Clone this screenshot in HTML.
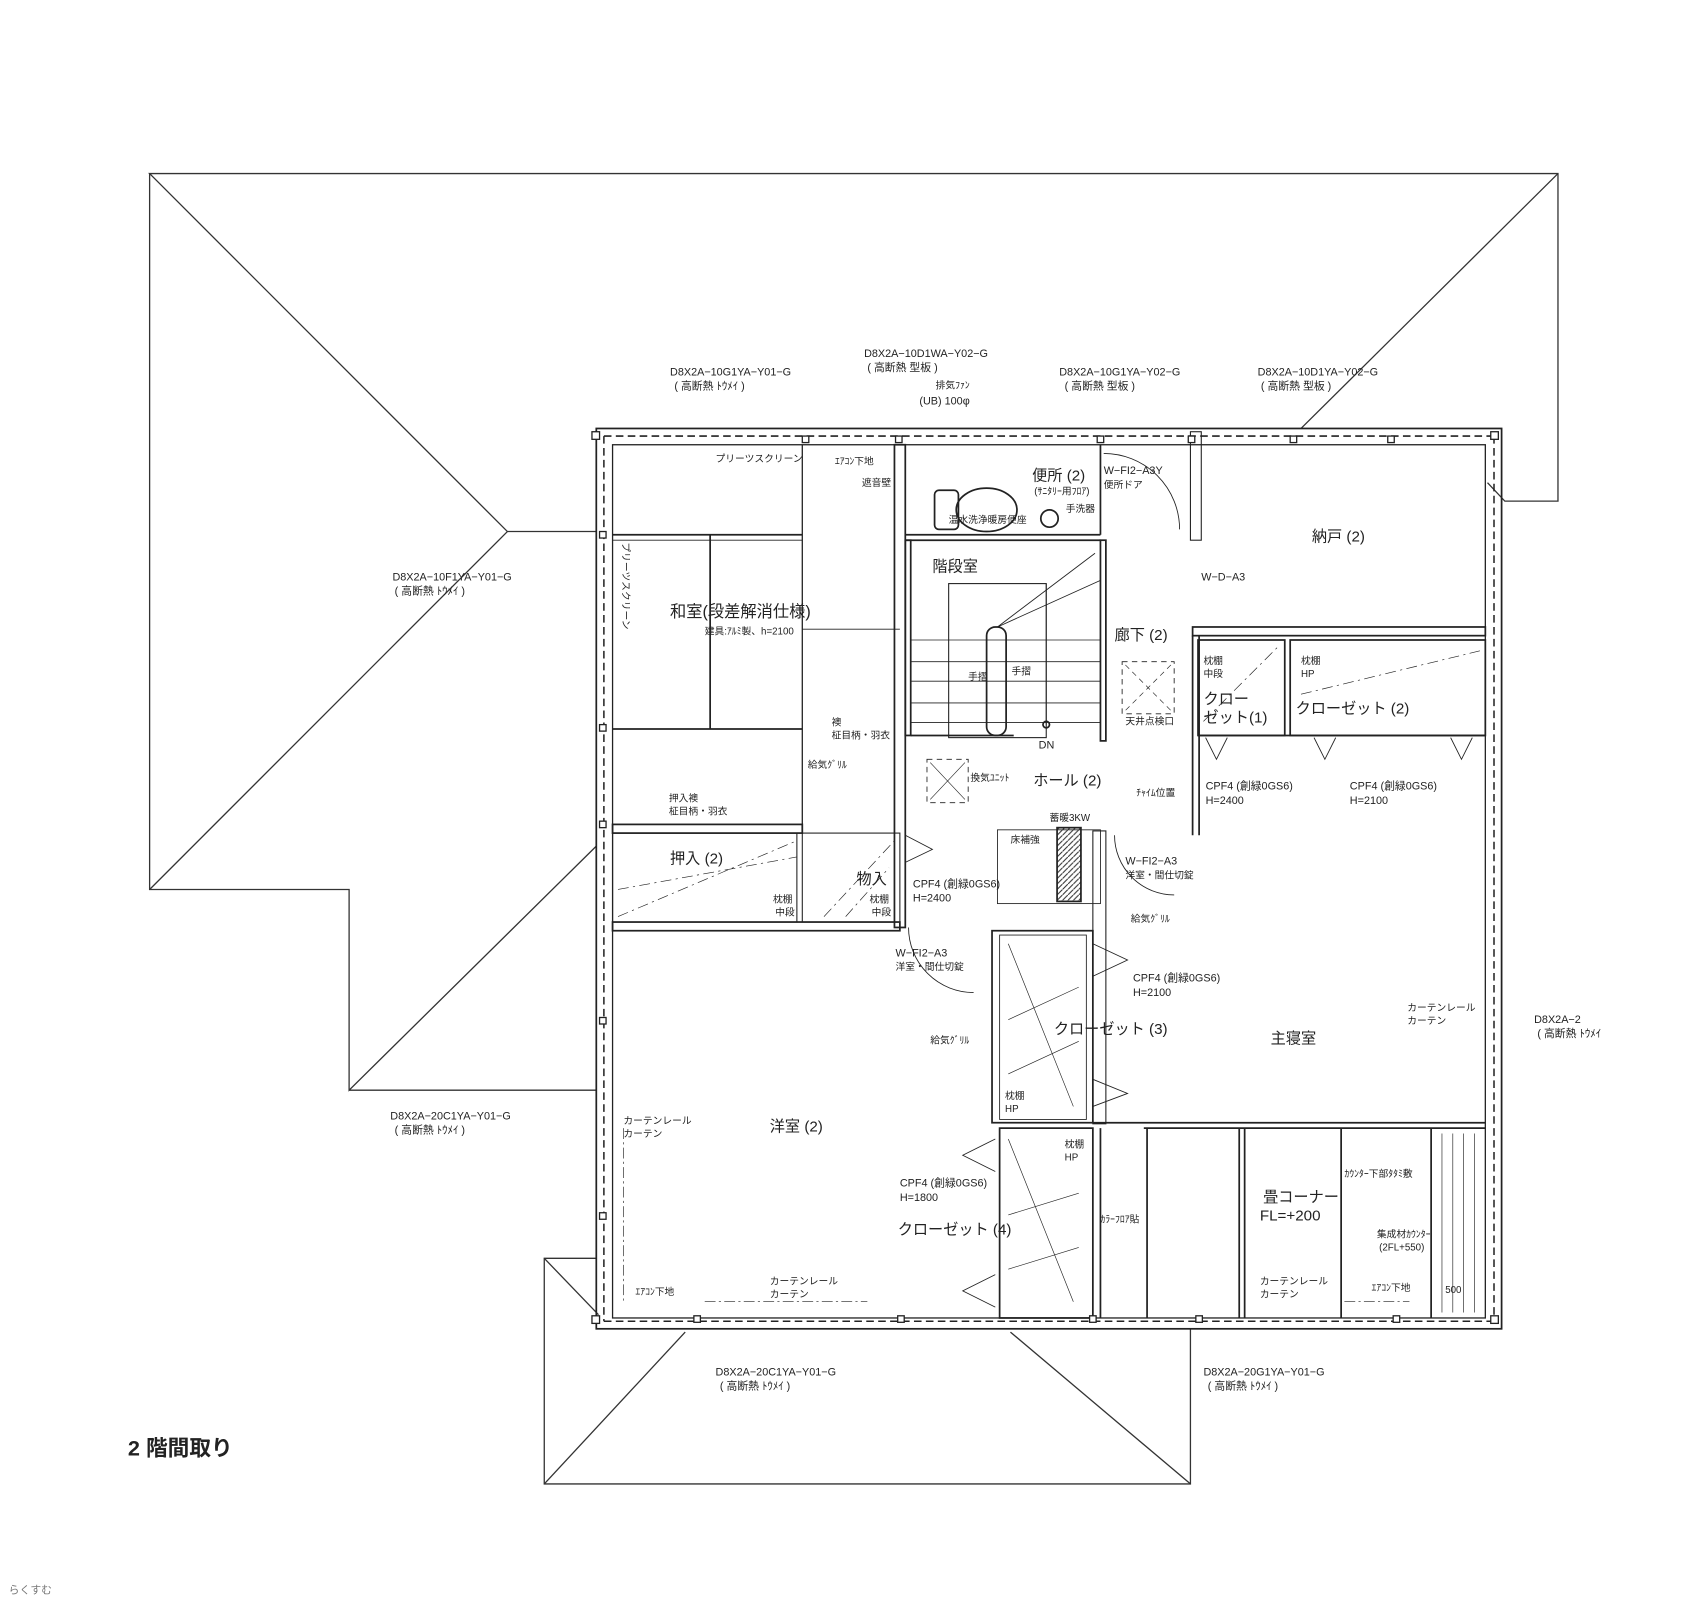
<!DOCTYPE html>
<html><head><meta charset="utf-8">
<style>
html,body{margin:0;padding:0;background:#fff;}
svg{display:block;}
text{font-family:"Liberation Sans","Noto Sans CJK JP",sans-serif;fill:#222;}
.s{font-size:10px}
.m{font-size:14px}
.l{font-size:15px}
.t{font-size:9px}
</style></head><body>
<svg width="1700" height="1600" viewBox="0 0 1568 1475" preserveAspectRatio="none" xmlns="http://www.w3.org/2000/svg">
<rect x="0" y="0" width="1568" height="1475" fill="#fff"/>
<g fill="none" stroke="#333" stroke-width="1.2">
<polyline points="550,490 468,490 138,160 1437,160 1437,462 1388,462 1372,445"/>
<line x1="1437" y1="160" x2="1200" y2="395"/>
<polyline points="550,780 322,1005 322,820 138,820 138,160"/>
<line x1="138" y1="820" x2="468" y2="490"/>
<polyline points="322,1005 550,1005"/>
<polyline points="550,1160 502,1160 502,1368 1098,1368 1098,1225"/>
<line x1="502" y1="1160" x2="552" y2="1212"/>
<line x1="502" y1="1368" x2="632" y2="1228"/>
<line x1="1098" y1="1368" x2="932" y2="1228"/>
</g>
<g fill="none" stroke="#222" stroke-width="1.6">
<rect x="550" y="395" width="835" height="830"/>
<rect x="565" y="410" width="805" height="805" stroke-width="1.2"/>
<line x1="740" y1="410" x2="740" y2="760" stroke-width="1.2"/>
<line x1="565" y1="493" x2="740" y2="493"/>
<line x1="565" y1="672" x2="740" y2="672"/>
<line x1="655" y1="493" x2="655" y2="672"/>
<line x1="565" y1="498" x2="740" y2="498" stroke-width="0.8"/>
<line x1="740" y1="580" x2="830" y2="580" stroke-width="0.8"/>
<rect x="825" y="410" width="10" height="445"/>
<rect x="565" y="760" width="175" height="8"/>
<rect x="565" y="850" width="265" height="8"/>
<rect x="740" y="768" width="90" height="82" stroke-width="1"/>
<rect x="565" y="768" width="170" height="82" stroke-width="1"/>
<line x1="835" y1="493" x2="1015" y2="493"/>
<line x1="835" y1="498" x2="1015" y2="498"/>
<line x1="1015" y1="410" x2="1015" y2="493"/>
<rect x="1015" y="498" width="5" height="185"/>
<rect x="835" y="498" width="5" height="180"/>
<rect x="875" y="538" width="90" height="142" stroke-width="1"/>
<line x1="840" y1="590" x2="1015" y2="590" stroke-width="0.8"/>
<line x1="840" y1="610" x2="1015" y2="610" stroke-width="0.8"/>
<line x1="840" y1="628" x2="1015" y2="628" stroke-width="0.8"/>
<line x1="840" y1="648" x2="1015" y2="648" stroke-width="0.8"/>
<line x1="840" y1="666" x2="1015" y2="666" stroke-width="0.8"/>
<line x1="840" y1="678" x2="935" y2="678"/>
<rect x="910" y="578" width="18" height="100" rx="8"/>
<line x1="920" y1="578" x2="1010" y2="510" stroke-width="0.8"/>
<line x1="920" y1="578" x2="1015" y2="535" stroke-width="0.8"/>
<line x1="965" y1="538" x2="965" y2="668" stroke-width="0.8"/>
<circle cx="965" cy="668" r="3"/>
<rect x="1098" y="398" width="10" height="100" stroke-width="1"/>
<rect x="1100" y="578" width="270" height="8"/>
<line x1="1100" y1="586" x2="1100" y2="770"/>
<line x1="1106" y1="586" x2="1106" y2="770"/>
<rect x="1105" y="590" width="80" height="88"/>
<rect x="1190" y="590" width="180" height="88"/>
<line x1="1105" y1="678" x2="1370" y2="678"/>
<rect x="915" y="858" width="93" height="177"/>
<rect x="922" y="862" width="80" height="170" stroke-width="0.8"/>
<rect x="1008" y="766" width="12" height="270" stroke-width="1"/>
<rect x="922" y="1040" width="86" height="175"/>
<line x1="1015" y1="1040" x2="1015" y2="1215"/>
<line x1="1008" y1="1035" x2="1370" y2="1035"/>
<line x1="1055" y1="1040" x2="1370" y2="1040"/>
<line x1="1058" y1="1040" x2="1058" y2="1215"/>
<line x1="1143" y1="1040" x2="1143" y2="1215"/>
<line x1="1148" y1="1040" x2="1148" y2="1215"/>
<line x1="1237" y1="1040" x2="1237" y2="1215"/>
<line x1="1320" y1="1040" x2="1320" y2="1215"/>
<line x1="1330" y1="1045" x2="1330" y2="1210" stroke-width="0.6"/>
<line x1="1340" y1="1045" x2="1340" y2="1210" stroke-width="0.6"/>
<line x1="1350" y1="1045" x2="1350" y2="1210" stroke-width="0.6"/>
<line x1="1360" y1="1045" x2="1360" y2="1210" stroke-width="0.6"/>
<rect x="975" y="763" width="22" height="68" fill="url(#h)"/>
<rect x="920" y="765" width="95" height="68" stroke-width="0.8"/>
<rect x="855" y="700" width="38" height="40" stroke-dasharray="5,4" stroke-width="0.8"/>
<line x1="858" y1="703" x2="890" y2="737" stroke-width="0.6"/>
<line x1="890" y1="703" x2="858" y2="737" stroke-width="0.6"/>
<rect x="1035" y="610" width="48" height="48" stroke-dasharray="5,4" stroke-width="0.8"/>
<line x1="1038" y1="613" x2="1080" y2="655" stroke-width="0.6" stroke-dasharray="5,4"/>
<line x1="1080" y1="613" x2="1038" y2="655" stroke-width="0.6" stroke-dasharray="5,4"/>
<path d="M1018 418 A70 70 0 0 1 1088 488" stroke-width="0.8"/>
<path d="M1028 770 A55 55 0 0 0 1083 825" stroke-width="0.8"/>
<path d="M838 855 A60 60 0 0 0 898 915" stroke-width="0.8"/>
<ellipse cx="910" cy="470" rx="28" ry="20"/>
<rect x="862" y="452" width="22" height="36" rx="4"/>
<circle cx="968" cy="478" r="8"/>
<path d="M570 845 L735 775 M570 820 L735 790" stroke-width="0.6" stroke-dasharray="10,4,2,4"/>
<path d="M760 845 L825 775 M780 845 L820 800" stroke-width="0.6" stroke-dasharray="10,4,2,4"/>
<path d="M1110 665 L1180 595 M1200 640 L1365 600" stroke-width="0.6" stroke-dasharray="10,4,2,4"/>
<path d="M930 870 L990 1020 M930 940 L995 910 M930 990 L995 960 M930 1050 L990 1200 M930 1120 L995 1100 M930 1170 L995 1150" stroke-width="0.6"/>
<path d="M650 1200 L800 1200 M1240 1200 L1300 1200 M575 1040 L575 1200" stroke-width="0.6" stroke-dasharray="10,3,2,3"/>
<path d="M1112 680 L1122 700 L1132 680 M1212 680 L1222 700 L1232 680 M1338 680 L1348 700 L1358 680" stroke-width="0.8"/>
<path d="M1008 870 L1040 885 L1008 900 M1008 995 L1040 1008 L1008 1020" stroke-width="0.8"/>
<path d="M918 1050 L888 1065 L918 1080 M918 1175 L888 1190 L918 1205" stroke-width="0.8"/>
<path d="M835 770 L860 783 L835 795" stroke-width="0.8"/>
</g>
<defs><pattern id="h" width="5" height="5" patternUnits="userSpaceOnUse"><path d="M0 5 L5 0" stroke="#333" stroke-width="1"/></pattern></defs>
<g fill="none" stroke="#222" stroke-width="1.4" stroke-dasharray="7,4">
<line x1="557" y1="402" x2="1378" y2="402"/>
<line x1="557" y1="1218" x2="1378" y2="1218"/>
<line x1="557" y1="402" x2="557" y2="1218"/>
<line x1="1378" y1="402" x2="1378" y2="1218"/>
</g>
<g fill="#fff" stroke="#222" stroke-width="1.2">
<rect x="546" y="398" width="7" height="7"/><rect x="1375" y="398" width="7" height="7"/>
<rect x="546" y="1213" width="7" height="7"/><rect x="1375" y="1213" width="7" height="7"/>
<rect x="740" y="402" width="6" height="6"/><rect x="826" y="402" width="6" height="6"/>
<rect x="1012" y="402" width="6" height="6"/><rect x="1096" y="402" width="6" height="6"/>
<rect x="1190" y="402" width="6" height="6"/><rect x="1280" y="402" width="6" height="6"/>
<rect x="553" y="490" width="6" height="6"/><rect x="553" y="668" width="6" height="6"/>
<rect x="553" y="757" width="6" height="6"/><rect x="553" y="938" width="6" height="6"/>
<rect x="553" y="1118" width="6" height="6"/><rect x="828" y="1213" width="6" height="6"/>
<rect x="1005" y="1213" width="6" height="6"/><rect x="1103" y="1213" width="6" height="6"/>
<rect x="1285" y="1213" width="6" height="6"/><rect x="640" y="1213" width="6" height="6"/>
</g>
<g>
<text x="618" y="346" class="s">D8X2A−10G1YA−Y01−G</text>
<text x="622" y="359" class="s">( 高断熱 ﾄｳﾒｲ )</text>
<text x="797" y="329" class="s">D8X2A−10D1WA−Y02−G</text>
<text x="800" y="342" class="s">( 高断熱 型板 )</text>
<text x="977" y="346" class="s">D8X2A−10G1YA−Y02−G</text>
<text x="982" y="359" class="s">( 高断熱 型板 )</text>
<text x="1160" y="346" class="s">D8X2A−10D1YA−Y02−G</text>
<text x="1163" y="359" class="s">( 高断熱 型板 )</text>
<text x="362" y="535" class="s">D8X2A−10F1YA−Y01−G</text>
<text x="364" y="548" class="s">( 高断熱 ﾄｳﾒｲ )</text>
<text x="360" y="1032" class="s">D8X2A−20C1YA−Y01−G</text>
<text x="364" y="1045" class="s">( 高断熱 ﾄｳﾒｲ )</text>
<text x="1415" y="943" class="s">D8X2A−2</text>
<text x="1418" y="956" class="s">( 高断熱 ﾄｳﾒｲ</text>
<text x="660" y="1268" class="s">D8X2A−20C1YA−Y01−G</text>
<text x="664" y="1281" class="s">( 高断熱 ﾄｳﾒｲ )</text>
<text x="1110" y="1268" class="s">D8X2A−20G1YA−Y01−G</text>
<text x="1114" y="1281" class="s">( 高断熱 ﾄｳﾒｲ )</text>
<text x="118" y="1342" style="font-size:20px;font-weight:bold">2 階間取り</text>
<text x="863" y="358" class="t">排気ﾌｧﾝ</text>
<text x="848" y="373" class="s">(UB) 100φ</text>
<text x="660" y="426" class="t">プリーツスクリーン</text>
<text x="770" y="428" class="t">ｴｱｺﾝ下地</text>
<text x="795" y="448" class="t">遮音壁</text>
<text x="952" y="443" class="m">便所 (2)</text>
<text x="954" y="456" class="t">(ｻﾆﾀﾘｰ用ﾌﾛｱ)</text>
<text x="875" y="482" class="t">温水洗浄暖房便座</text>
<text x="983" y="472" class="t">手洗器</text>
<text x="1018" y="437" class="s">W−FI2−A3Y</text>
<text x="1018" y="450" class="t">便所ドア</text>
<text x="1210" y="499" class="m">納戸 (2)</text>
<text x="1108" y="535" class="s">W−D−A3</text>
<text x="860" y="527" class="m">階段室</text>
<text x="618" y="569" class="l">和室(段差解消仕様)</text>
<text x="650" y="585" class="t">建具:ｱﾙﾐ製、h=2100</text>
<text x="1028" y="590" class="m">廊下 (2)</text>
<text x="893" y="627" class="t">手摺</text>
<text x="933" y="622" class="t">手摺</text>
<text x="1038" y="668" class="t">天井点検口</text>
<text x="958" y="690" class="s">DN</text>
<text x="1110" y="612" class="t">枕棚</text>
<text x="1110" y="624" class="t">中段</text>
<text x="1200" y="612" class="t">枕棚</text>
<text x="1200" y="624" class="t">HP</text>
<text x="1110" y="649" class="m">クロー</text>
<text x="1110" y="666" class="m">ゼット(1)</text>
<text x="1195" y="658" class="m">クローゼット (2)</text>
<text x="767" y="669" class="t">襖</text>
<text x="767" y="681" class="t">柾目柄・羽衣</text>
<text x="745" y="708" class="t">給気ｸﾞﾘﾙ</text>
<text x="895" y="720" class="t">換気ﾕﾆｯﾄ</text>
<text x="953" y="724" class="m">ホール (2)</text>
<text x="1048" y="734" class="t">ﾁｬｲﾑ位置</text>
<text x="1112" y="728" class="s">CPF4 (創緑0GS6)</text>
<text x="1112" y="741" class="s">H=2400</text>
<text x="1245" y="728" class="s">CPF4 (創緑0GS6)</text>
<text x="1245" y="741" class="s">H=2100</text>
<text x="617" y="739" class="t">押入襖</text>
<text x="617" y="751" class="t">柾目柄・羽衣</text>
<text x="968" y="757" class="t">蓄暖3KW</text>
<text x="932" y="777" class="t">床補強</text>
<text x="1038" y="797" class="s">W−FI2−A3</text>
<text x="1038" y="810" class="t">洋室・間仕切錠</text>
<text x="618" y="796" class="m">押入 (2)</text>
<text x="790" y="815" class="m">物入</text>
<text x="842" y="818" class="s">CPF4 (創緑0GS6)</text>
<text x="842" y="831" class="s">H=2400</text>
<text x="713" y="832" class="t">枕棚</text>
<text x="715" y="844" class="t">中段</text>
<text x="802" y="832" class="t">枕棚</text>
<text x="804" y="844" class="t">中段</text>
<text x="1043" y="850" class="t">給気ｸﾞﾘﾙ</text>
<text x="826" y="882" class="s">W−FI2−A3</text>
<text x="826" y="894" class="t">洋室・間仕切錠</text>
<text x="1045" y="905" class="s">CPF4 (創緑0GS6)</text>
<text x="1045" y="918" class="s">H=2100</text>
<text x="1298" y="932" class="t">カーテンレール</text>
<text x="1298" y="944" class="t">カーテン</text>
<text x="972" y="953" class="m">クローゼット (3)</text>
<text x="1172" y="962" class="m">主寝室</text>
<text x="858" y="962" class="t">給気ｸﾞﾘﾙ</text>
<text x="927" y="1013" class="t">枕棚</text>
<text x="927" y="1025" class="t">HP</text>
<text x="575" y="1036" class="t">カーテンレール</text>
<text x="575" y="1048" class="t">カーテン</text>
<text x="710" y="1043" class="m">洋室 (2)</text>
<text x="982" y="1058" class="t">枕棚</text>
<text x="982" y="1070" class="t">HP</text>
<text x="1240" y="1085" class="t">ｶｳﾝﾀｰ下部ﾀﾀﾐ敷</text>
<text x="830" y="1094" class="s">CPF4 (創緑0GS6)</text>
<text x="830" y="1107" class="s">H=1800</text>
<text x="1165" y="1108" class="m">畳コーナー</text>
<text x="1162" y="1125" class="m">FL=+200</text>
<text x="1015" y="1127" class="t">ｶﾗｰﾌﾛｱ貼</text>
<text x="828" y="1138" class="m">クローゼット (4)</text>
<text x="1270" y="1141" class="t">集成材ｶｳﾝﾀｰ</text>
<text x="1272" y="1153" class="t">(2FL+550)</text>
<text x="710" y="1184" class="t">カーテンレール</text>
<text x="710" y="1196" class="t">カーテン</text>
<text x="1162" y="1184" class="t">カーテンレール</text>
<text x="1162" y="1196" class="t">カーテン</text>
<text x="586" y="1194" class="t">ｴｱｺﾝ下地</text>
<text x="1265" y="1190" class="t">ｴｱｺﾝ下地</text>
<text x="1333" y="1192" class="t">500</text>
<text x="0" y="0" class="t" transform="translate(574,500) rotate(90)">プリーツスクリーン</text>
<text x="8" y="1469" style="font-size:10px;fill:#777">らくすむ</text>
</g>
</svg>
</body></html>
